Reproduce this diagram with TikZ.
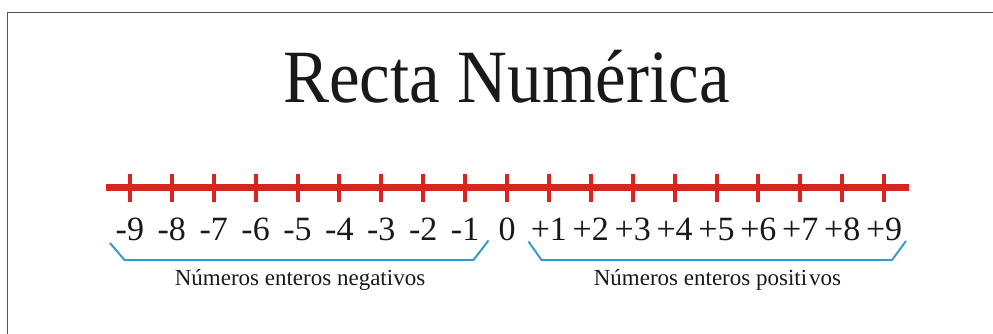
\documentclass[tikz,border=0pt]{standalone}
\usepackage{fontspec}
\setmainfont{Liberation Serif}
\definecolor{axisred}{HTML}{D8261F}
\definecolor{bracketblue}{HTML}{3A9AD0}
\definecolor{framegray}{HTML}{555555}
\begin{document}
\begin{tikzpicture}[x=1pt,y=-1pt,
  frame/.style={draw=framegray,line width=1.5pt},
  titletext/.style={anchor=base,inner sep=0pt,font=\fontsize{69}{72}\selectfont,text=black!90,yscale=1.09},
  numtext/.style={anchor=base,inner sep=0pt,font=\fontsize{34}{35}\selectfont,text=black!90},
  captext/.style={anchor=base,inner sep=0pt,font=\fontsize{23}{24}\selectfont,text=black!90},
  axisline/.style={draw=axisred,line width=7.5pt},
  tickline/.style={draw=axisred,line width=4pt},
  bracketline/.style={draw=bracketblue,line width=2pt,line join=miter}]
\useasboundingbox (0,0) rectangle (993,334);
\fill[white] (0,0) rectangle (993,334);
\coordinate (fbl) at (7.5,334);
\coordinate (ftl) at (7.5,12.5);
\coordinate (ftr) at (993,12.5);
\draw[frame] (fbl) -- (ftl) -- (ftr);
\node[titletext] (title) at (506.5,103) {Recta Numérica};
\coordinate (axL) at (105.5,187.5);
\coordinate (axR) at (909,187.5);
\draw[axisline] (axL) -- (axR);
\foreach \i in {-9,...,9}{
  \coordinate (tt\i) at ({507+41.9*\i},173.5);
  \coordinate (tb\i) at ({507+41.9*\i},201.5);
  \draw[tickline] (tt\i) -- (tb\i);
}
\foreach \i in {-9,...,-1}{
  \node[numtext] (n\i) at ({507+41.9*\i},240) {\i};
}
\node[numtext] (n0) at (507,240) {0};
\foreach \i in {1,...,9}{
  \node[numtext] (n\i) at ({507+41.9*\i},240) {+\i};
}
\coordinate (b1a) at (110,243);
\coordinate (b1b) at (124.5,260);
\coordinate (b1c) at (473.5,260);
\coordinate (b1d) at (488.5,240.5);
\draw[bracketline] (b1a) -- (b1b) -- (b1c) -- (b1d);
\coordinate (b2a) at (528.5,241.5);
\coordinate (b2b) at (541.5,260);
\coordinate (b2c) at (892,260);
\coordinate (b2d) at (906,241);
\draw[bracketline] (b2a) -- (b2b) -- (b2c) -- (b2d);
\node[captext] (neg) at (300,285.5) {Números enteros negativos};
\node[captext] (pos) at (717.5,285.5) {Números enteros positi\kern2pt vos};
\end{tikzpicture}
\end{document}
